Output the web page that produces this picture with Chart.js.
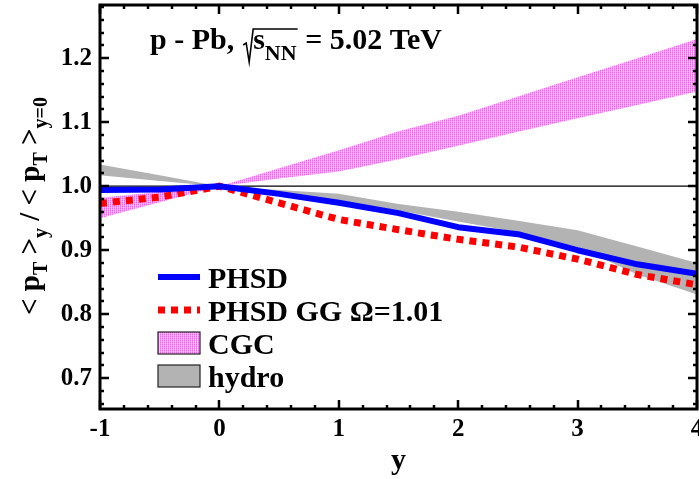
<!DOCTYPE html>
<html>
<head>
<meta charset="utf-8">
<script src="https://cdn.jsdelivr.net/npm/chart.js@4.4.1/dist/chart.umd.min.js"></script>
<style>
  html, body { margin: 0; padding: 0; background: #fff; }
  #wrap { width: 699px; height: 479px; }
</style>
</head>
<body>
<div id="wrap"><canvas id="c" width="699" height="479"></canvas></div>
<script>
// values
var rapidity  = [-1, -0.5, 0, 0.5, 1, 1.5, 2, 2.5, 3, 3.5, 4];
var phsd      = [0.994, 0.995, 1.0, 0.988, 0.974, 0.958, 0.936, 0.925, 0.900, 0.878, 0.863];
var phsdGG    = [0.973, 0.983, 1.0, 0.974, 0.948, 0.932, 0.917, 0.905, 0.886, 0.862, 0.846];
var cgcHigh   = [0.982, 0.991, 1.0, 1.028, 1.056, 1.086, 1.110, 1.140, 1.170, 1.200, 1.230];
var cgcLow    = [0.950, 0.975, 1.0, 1.012, 1.023, 1.042, 1.063, 1.085, 1.106, 1.127, 1.148];
var hydroHigh = [1.034, 1.017, 1.0, 0.994, 0.988, 0.972, 0.960, 0.946, 0.931, 0.906, 0.880];
var hydroLow  = [1.017, 1.008, 1.0, 0.990, 0.978, 0.962, 0.945, 0.928, 0.905, 0.862, 0.831];
var refLevel  = 1.0;

var xTicks = [-1, 0, 1, 2, 3, 4];
var yTicks = [0.7, 0.8, 0.9, 1.0, 1.1, 1.2];

var SERIF = '"Liberation Serif", "Times New Roman", serif';

function pts(ys) {
  return ys.map(function(v, i){ return { x: rapidity[i], y: v }; });
}

// pink dotted fill like the CGC band
function cgcPattern() {
  var t = document.createElement('canvas');
  t.width = 2; t.height = 2;
  var g = t.getContext('2d');
  g.fillStyle = '#ffc4ff'; g.fillRect(0, 0, 2, 2);
  g.fillStyle = '#ff55ff'; g.fillRect(0, 0, 1, 1);
  g.fillStyle = '#ff88ff'; g.fillRect(0, 1, 1, 1);
  return document.getElementById('c').getContext('2d').createPattern(t, 'repeat');
}
var cgcFill = cgcPattern();

// inward ticks on all four sides + frame
var framePlugin = {
  id: 'frame',
  afterDatasetsDraw: function(chart) {
    var ctx = chart.ctx, a = chart.chartArea;
    var xs = chart.scales.x, ys = chart.scales.y;
    ctx.save();
    ctx.strokeStyle = '#000';
    ctx.lineWidth = 2.5;
    ctx.beginPath();
    var v, p, major;
    for (v = -1; v <= 4.0001; v += 0.2) {
      p = Math.round(xs.getPixelForValue(v));
      major = Math.abs(v - Math.round(v)) < 1e-6;
      var lx = major ? 9 : 4;
      ctx.moveTo(p, a.bottom); ctx.lineTo(p, a.bottom - lx);
      ctx.moveTo(p, a.top); ctx.lineTo(p, a.top + lx);
    }
    for (v = 0.66; v <= 1.2801; v += 0.02) {
      p = Math.round(ys.getPixelForValue(v));
      major = Math.abs(v * 10 - Math.round(v * 10)) < 1e-6;
      var ly = major ? 9 : 4;
      ctx.moveTo(a.left, p); ctx.lineTo(a.left + ly, p);
      ctx.moveTo(a.right, p); ctx.lineTo(a.right - ly, p);
    }
    ctx.stroke();
    ctx.lineWidth = 3;
    ctx.strokeRect(a.left, a.top, a.right - a.left, a.bottom - a.top);
    ctx.restore();
  }
};

// title, axis titles and legend drawn on the canvas
var textPlugin = {
  id: 'texts',
  afterDraw: function(chart) {
    var ctx = chart.ctx, a = chart.chartArea;
    ctx.save();
    ctx.fillStyle = '#000';
    ctx.textBaseline = 'alphabetic';
    ctx.textAlign = 'left';

    // title: p - Pb,  sqrt(s_NN) = 5.02 TeV
    var big = 'bold 30px ' + SERIF, small = 'bold 22px ' + SERIF;
    var x = 150, base = 49;
    ctx.font = big;
    ctx.fillText('p - Pb,', x, base);
    x += ctx.measureText('p - Pb,').width + 9;
    var rx = x;
    x += 10;
    ctx.fillText('s', x, base);
    x += ctx.measureText('s').width;
    ctx.font = small;
    ctx.fillText('NN', x, base + 11);
    x += ctx.measureText('NN').width + 1;
    ctx.strokeStyle = '#000';
    ctx.lineWidth = 1.6;
    ctx.beginPath();
    ctx.moveTo(rx, base - 4);
    ctx.lineTo(rx + 3, base - 6);
    ctx.lineTo(rx + 6, base + 13);
    ctx.lineTo(rx + 10, base - 20);
    ctx.lineTo(x, base - 20);
    ctx.stroke();
    ctx.font = big;
    ctx.fillText(' = 5.02 TeV', x, base);

    // x title
    ctx.textAlign = 'center';
    ctx.fillText('y', (a.left + a.right) / 2, 469);

    // y title, rotated
    var yb = 'bold 29px ' + SERIF, ys = 'bold 20px ' + SERIF;
    var parts = [
      ['< p', yb, 0], ['T', ys, 8], [' >', yb, 0], ['y', ys, 8],
      [' / < p', yb, 0], ['T', ys, 8], [' >', yb, 0], ['y=0', ys, 8]
    ];
    var total = 0;
    parts.forEach(function(pt){ ctx.font = pt[1]; total += ctx.measureText(pt[0]).width; });
    ctx.translate(39, 206 + total / 2);
    ctx.rotate(-Math.PI / 2);
    ctx.textAlign = 'left';
    var px = 0;
    parts.forEach(function(pt){
      ctx.font = pt[1];
      ctx.fillText(pt[0], px, pt[2]);
      px += ctx.measureText(pt[0]).width;
    });
    ctx.setTransform(1, 0, 0, 1, 0, 0);

    // legend
    var lx0 = 158, lx1 = 200, tx = 208;
    var rows = [288, 321, 354, 387];
    ctx.font = 'bold 30px ' + SERIF;
    ctx.textAlign = 'left';
    chart.data.datasets.filter(function(d){ return d.legendKind; }).forEach(function(d, i){
      var b = rows[i], mid = b - 11;
      if (d.legendKind === 'line') {
        ctx.save();
        ctx.strokeStyle = d.borderColor;
        ctx.lineWidth = d.borderWidth;
        ctx.setLineDash(d.borderDash || []);
        ctx.beginPath(); ctx.moveTo(lx0, mid); ctx.lineTo(lx1, mid); ctx.stroke();
        ctx.restore();
      } else {
        ctx.fillStyle = d.backgroundColor;
        ctx.fillRect(lx0, mid - 11, lx1 - lx0, 22);
        ctx.strokeStyle = '#222';
        ctx.lineWidth = 1.2;
        ctx.strokeRect(lx0, mid - 11, lx1 - lx0, 22);
      }
      ctx.fillStyle = '#000';
      ctx.fillText(d.label, tx, b);
    });
    ctx.restore();
  }
};

new Chart(document.getElementById('c').getContext('2d'), {
  type: 'line',
  data: {
    datasets: [
      { label: 'PHSD', legendKind: 'line', data: pts(phsd), borderColor: '#0000ff', borderWidth: 6,
        pointRadius: 0, fill: false, tension: 0, order: 0, borderJoinStyle: 'round' },
      { label: 'PHSD GG \u03A9=1.01', legendKind: 'line', data: pts(phsdGG), borderColor: '#ff0000', borderWidth: 7,
        borderDash: [7, 6], pointRadius: 0, fill: false, tension: 0, order: 0 },
      { label: 'ref', data: [{ x: -1, y: refLevel }, { x: 4, y: refLevel }], borderColor: '#000', borderWidth: 1.3,
        pointRadius: 0, fill: false, order: 1 },
      { label: 'CGC', legendKind: 'box', data: pts(cgcHigh), backgroundColor: cgcFill, borderColor: 'rgba(0,0,0,0)',
        pointRadius: 0, fill: 4, tension: 0, order: 2 },
      { label: 'cgc low', data: pts(cgcLow), borderColor: 'rgba(0,0,0,0)', pointRadius: 0, fill: false, order: 2 },
      { label: 'hydro', legendKind: 'box', data: pts(hydroHigh), backgroundColor: '#b3b3b3', borderColor: 'rgba(0,0,0,0)',
        pointRadius: 0, fill: 6, tension: 0, order: 3 },
      { label: 'hydro low', data: pts(hydroLow), borderColor: 'rgba(0,0,0,0)', pointRadius: 0, fill: false, order: 3 }
    ]
  },
  options: {
    responsive: false,
    animation: false,
    devicePixelRatio: 1,
    layout: { padding: { top: 5, right: 2, left: 0, bottom: 0 } },
    plugins: { legend: { display: false }, tooltip: { enabled: false } },
    scales: {
      x: {
        type: 'linear', min: -1, max: 4,
        grid: { display: false, drawTicks: false },
        border: { display: false },
        afterBuildTicks: function(s){ s.ticks = xTicks.map(function(v){ return { value: v }; }); },
        afterFit: function(s){ s.height = 70; s.paddingLeft = 0; s.paddingRight = 0; },
        ticks: { color: '#000', padding: 6, maxRotation: 0, autoSkip: false,
          font: { family: SERIF, size: 25, weight: 'bold' },
          callback: function(v){ return String(v); } }
      },
      y: {
        type: 'linear', min: 0.652, max: 1.283,
        grid: { display: false, drawTicks: false },
        border: { display: false },
        afterBuildTicks: function(s){ s.ticks = yTicks.map(function(v){ return { value: v }; }); },
        afterFit: function(s){ s.width = 100; s.paddingTop = 0; s.paddingBottom = 0; },
        ticks: { color: '#000', padding: 8, autoSkip: false,
          font: { family: SERIF, size: 25, weight: 'bold' },
          callback: function(v){ return Number(v).toFixed(1); } }
      }
    }
  },
  plugins: [framePlugin, textPlugin]
});
</script>
</body>
</html>
